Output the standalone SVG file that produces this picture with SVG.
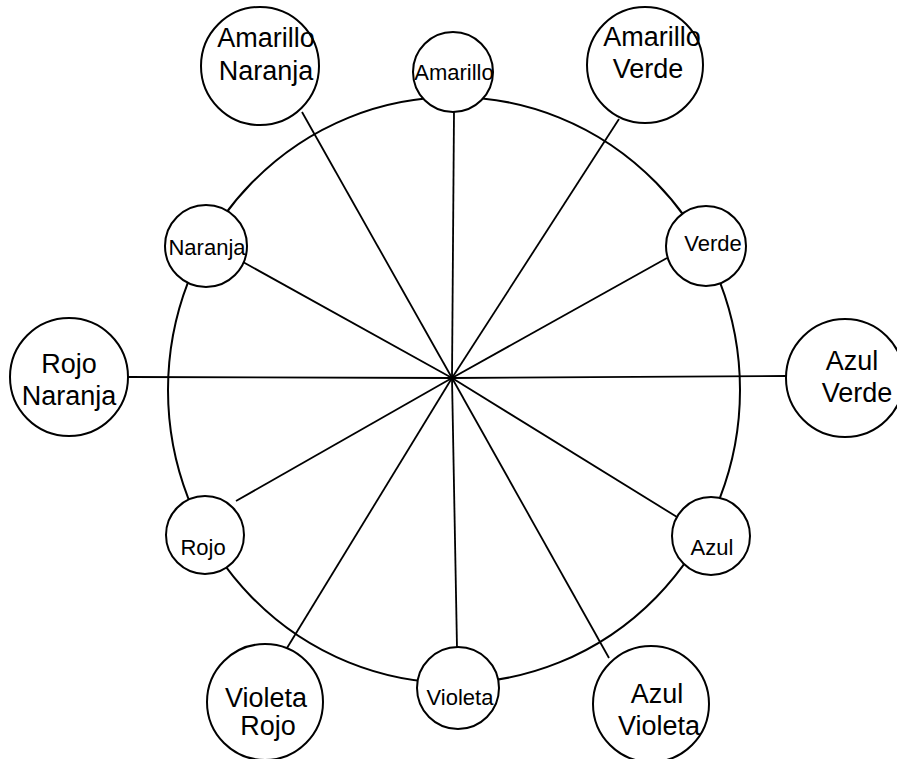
<svg xmlns="http://www.w3.org/2000/svg" width="897" height="759" viewBox="0 0 897 759">
<style>
.ring{fill:none;stroke:#000;stroke-width:2}
.spoke{stroke:#000;stroke-width:1.8;fill:none}
.node circle{fill:#fff;stroke:#000;stroke-width:2}
.node text{font-family:"Liberation Sans",Arial,sans-serif;text-anchor:middle;fill:#000}
.s text{font-size:22px}
.l text{font-size:27px}
</style>
<rect width="897" height="759" fill="#fff"/>
<ellipse class="ring" cx="454" cy="390" rx="286" ry="293"/>
<g id="connectors">
<line class="spoke" x1="452" y1="378" x2="454" y2="112"/>
<line class="spoke" x1="452" y1="378" x2="619" y2="119"/>
<line class="spoke" x1="452" y1="378" x2="667" y2="258"/>
<line class="spoke" x1="452" y1="378" x2="786" y2="376"/>
<line class="spoke" x1="452" y1="378" x2="677" y2="517"/>
<line class="spoke" x1="452" y1="378" x2="609" y2="658"/>
<line class="spoke" x1="452" y1="378" x2="457" y2="648"/>
<line class="spoke" x1="452" y1="378" x2="287" y2="648"/>
<line class="spoke" x1="452" y1="378" x2="236" y2="501"/>
<line class="spoke" x1="452" y1="378" x2="128" y2="377"/>
<line class="spoke" x1="452" y1="378" x2="243" y2="262"/>
<line class="spoke" x1="452" y1="378" x2="302" y2="112"/>
</g>
<g id="amarillo" class="node s"><circle cx="453" cy="72" r="40"/><text x="454" y="80">Amarillo</text></g>
<g id="amarillo-verde" class="node l"><circle cx="645" cy="65" r="58"/><text x="652" y="46">Amarillo</text><text x="648" y="78">Verde</text></g>
<g id="verde" class="node s"><circle cx="706" cy="246" r="40"/><text x="713" y="251">Verde</text></g>
<g id="azul-verde" class="node l"><circle cx="845" cy="378" r="59"/><text x="852" y="370">Azul</text><text x="857" y="402">Verde</text></g>
<g id="azul" class="node s"><circle cx="711" cy="536" r="39"/><text x="712" y="555">Azul</text></g>
<g id="azul-violeta" class="node l"><circle cx="651" cy="704" r="58"/><text x="657" y="703">Azul</text><text x="659" y="735">Violeta</text></g>
<g id="violeta" class="node s"><circle cx="458" cy="688" r="41"/><text x="460" y="705">Violeta</text></g>
<g id="violeta-rojo" class="node l"><circle cx="265" cy="702" r="58"/><text x="266" y="707">Violeta</text><text x="268" y="735">Rojo</text></g>
<g id="rojo" class="node s"><circle cx="205" cy="535" r="39"/><text x="203" y="555">Rojo</text></g>
<g id="rojo-naranja" class="node l"><circle cx="69" cy="377" r="59"/><text x="69" y="373">Rojo</text><text x="69" y="405">Naranja</text></g>
<g id="naranja" class="node s"><circle cx="206" cy="246" r="41"/><text x="207" y="255">Naranja</text></g>
<g id="amarillo-naranja" class="node l"><circle cx="260" cy="66" r="59"/><text x="266" y="47">Amarillo</text><text x="266" y="80">Naranja</text></g>
</svg>
